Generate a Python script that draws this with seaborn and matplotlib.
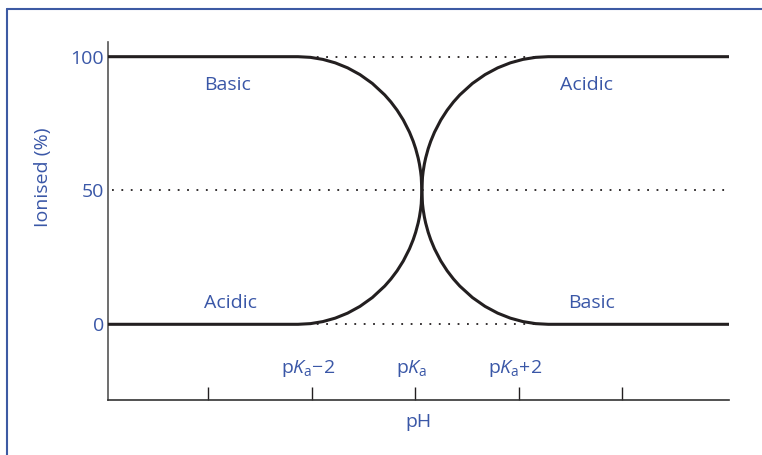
import matplotlib
matplotlib.use("Agg")
import matplotlib.pyplot as plt
from matplotlib.lines import Line2D
import seaborn as sns
import pandas as pd

# ---- data (pH expressed relative to pKa) ----
ph_basic = [-5.93, -2.26, -2.021, -1.782, -1.543, -1.304, -1.065, -0.826, -0.587, -0.4675,
            -0.348, -0.2285, -0.109, -0.0373, 0.0105, 0.0583, 0.0822, 0.1061, 0.1181, 0.13,
            0.1422, 0.1544, 0.1788, 0.2032, 0.252, 0.3008, 0.374, 0.496, 0.618, 0.74,
            0.862, 1.106, 1.35, 1.594, 1.838, 2.082, 2.326, 2.57, 6.06]
ionised_basic = [100, 100, 99.75, 98.99, 97.70, 95.83, 93.30, 90.0, 85.71, 83.07,
                 80.0, 76.34, 71.79, 68.38, 65.61, 62.15, 59.95, 57.05, 55.0, 50.0,
                 45.0, 42.95, 40.05, 37.85, 34.39, 31.62, 28.21, 23.66, 20.0, 16.93,
                 14.29, 10.0, 6.70, 4.17, 2.30, 1.01, 0.25, 0, 0]
ph_acidic = ph_basic
ionised_acidic = [0, 0, 0.25, 1.01, 2.30, 4.17, 6.70, 10.0, 14.29, 16.93,
                  20.0, 23.66, 28.21, 31.62, 34.39, 37.85, 40.05, 42.95, 45.0, 50.0,
                  55.0, 57.05, 59.95, 62.15, 65.61, 68.38, 71.79, 76.34, 80.0, 83.07,
                  85.71, 90.0, 93.30, 95.83, 97.70, 98.99, 99.75, 100, 100]

y_ticks = [0, 50, 100]
x_ticks = [-4, -2, 0, 2, 4]
x_tick_labels = {-2: r"p$K_{\mathrm{a}}$−2", 0: r"p$K_{\mathrm{a}}$", 2: r"p$K_{\mathrm{a}}$+2"}
ref_lines_short = [0, 100]
ref_line_full = 50
short_span = [-2.26, 2.57]
labels = [("Basic", -3.63, 89.4), ("Acidic", 3.30, 89.4),
          ("Acidic", -3.57, 8.0), ("Basic", 3.40, 8.0)]

sns.set_theme(style="white")
plt.rcParams["font.family"] = ["Open Sans", "DejaVu Sans"]
plt.rcParams["mathtext.fontset"] = "custom"
plt.rcParams["mathtext.rm"] = "Open Sans"
plt.rcParams["mathtext.it"] = "Open Sans:italic"

blue = "#3a57a7"
ink = "#231f20"
fs = 14

fig = plt.figure(figsize=(7.62, 4.55), dpi=100)
ax = fig.add_axes([108 / 762, 1 - 399.5 / 455, (729 - 108) / 762, (399.5 - 41.7) / 455])

df = pd.concat([
    pd.DataFrame({"pH": ph_basic, "ion": ionised_basic, "kind": "basic"}),
    pd.DataFrame({"pH": ph_acidic, "ion": ionised_acidic, "kind": "acidic"}),
])

# reference dotted lines
dot = (0, (1, 4.2))
for yv in ref_lines_short:
    ax.plot(short_span, [yv, yv], color=ink, lw=1.3, linestyle=dot, zorder=1)
ax.plot([-5.85, 6.06], [ref_line_full, ref_line_full], color=ink, lw=1.3, linestyle=dot, zorder=1)

sns.lineplot(data=df, x="pH", y="ion", hue="kind", palette=[ink, ink],
             linewidth=2.2, sort=False, estimator=None, legend=False, ax=ax, zorder=3)
for ln in ax.get_lines():
    ln.set_solid_capstyle("butt")
    ln.set_solid_joinstyle("round")

ax.set_xlim(-5.93, 6.06)
ax.set_ylim(-28.1, 105.6)

ax.set_yticks(y_ticks)
ax.set_yticklabels([str(v) for v in y_ticks])
ax.tick_params(axis="y", length=0, pad=3, labelsize=fs, labelcolor=blue)
ax.set_xticks(x_ticks)
ax.set_xticklabels([])
ax.tick_params(axis="x", direction="in", length=9.2, width=1.0, color=ink, bottom=True)

for xv, lab in x_tick_labels.items():
    ax.text(xv - 0.07, -18.3, lab, ha="center", va="baseline", fontsize=fs, color=blue)

for txt, xv, yv in labels:
    ax.text(xv, yv, txt, ha="center", va="center", fontsize=fs, color=blue)

ax.set_xlabel("pH", fontsize=fs, color=blue, labelpad=6)
ax.set_ylabel("Ionised (%)", fontsize=fs, color=blue)
ax.yaxis.set_label_coords(-0.09, 0.62)

for side in ["top", "right"]:
    ax.spines[side].set_visible(False)
ax.spines["left"].set_color("#555555")
ax.spines["left"].set_linewidth(1.2)
ax.spines["bottom"].set_color("#333333")
ax.spines["bottom"].set_linewidth(1.2)

# frame (top and left edges)
fig.add_artist(Line2D([7 / 762, 1.0], [1 - 9 / 455, 1 - 9 / 455], color="#3d5aa3", lw=1.5,
                      transform=fig.transFigure))
fig.add_artist(Line2D([7 / 762, 7 / 762], [0, 1 - 9 / 455], color="#3d5aa3", lw=1.5,
                      transform=fig.transFigure))

fig.savefig("out.png", dpi=100)
